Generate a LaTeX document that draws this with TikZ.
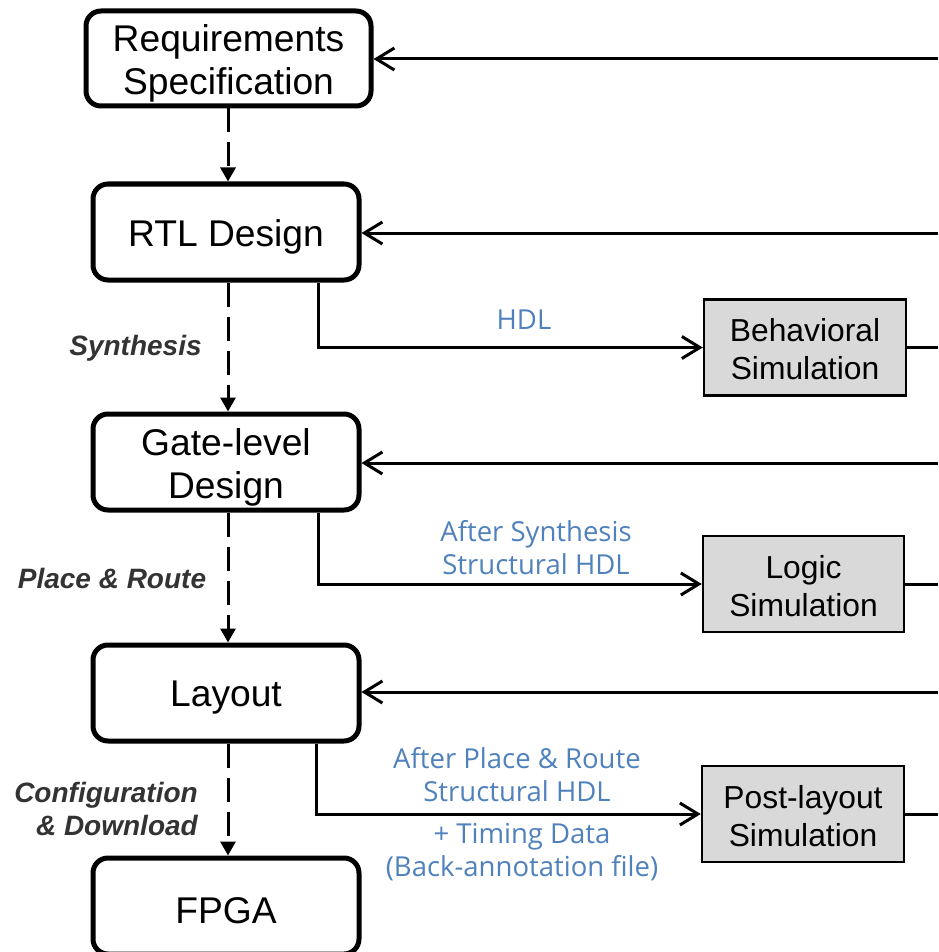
\documentclass[tikz,border=0pt]{standalone}
\usepackage{fontspec}
\setmainfont{Liberation Sans}
\newfontfamily\bluefont{Open Sans}
\usetikzlibrary{arrows.meta}
\definecolor{hdlblue}{RGB}{79,129,189}
\definecolor{labgray}{RGB}{51,51,51}
\definecolor{simfill}{RGB}{217,217,217}
\newcommand{\dnm}[1]{\raisebox{-5pt}[\height][\depth]{#1}}
\newcommand{\dns}[1]{\raisebox{-2pt}[\height][\depth]{#1}}
\begin{document}
\begin{tikzpicture}[x=1pt,y=-1pt,
  mainbox/.style={draw=black, line width=5pt, rounded corners=15pt, inner sep=0pt,
    minimum width=266pt, minimum height=96pt, align=center,
    font=\fontsize{37.2}{43}\selectfont},
  simbox/.style={draw=black, fill=simfill, line width=2.5pt, inner sep=0pt,
    minimum width=201pt, minimum height=96pt, align=center,
    font=\fontsize{31.8}{38}\selectfont},
  dasharrow/.style={line width=3pt, dash pattern=on 24pt off 10pt,
    -{Triangle[length=14pt,width=15pt]}},
  openarrow/.style={line width=3pt, -{Straight Barb[length=18pt,width=22pt]}},
  plainline/.style={line width=3pt},
  bluelab/.style={text=hdlblue, align=center, inner sep=0pt,
    font=\bluefont\fontsize{27.5}{33}\selectfont},
  steplab/.style={text=labgray, inner sep=0pt,
    font=\bfseries\itshape\fontsize{28}{33}\selectfont}
]
\useasboundingbox (0,0) rectangle (938,952);

% main flow boxes
\node[mainbox, minimum width=285pt, minimum height=95pt] (req) at (228.5,58.5) {\dnm{Requirements}\\\dnm{Specification}};
\node[mainbox] (rtl) at (226,232) {\dnm{RTL Design}};
\node[mainbox] (gate) at (226,462) {\dnm{Gate-level}\\\dnm{Design}};
\node[mainbox] (lay) at (226,693) {\dnm{Layout}};
\node[mainbox] (fpga) at (226,906) {\dnm{FPGA}};

% simulation boxes
\node[simbox, minimum width=202pt] (beh) at (805,347.5) {\dns{Behavioral}\\\dns{Simulation}};
\node[simbox] (logic) at (803.5,584) {\dns{Logic}\\\dns{Simulation}};
\node[simbox, minimum width=202pt] (post) at (803,814) {\dns{Post-layout}\\\dns{Simulation}};

% right-edge coordinates
\coordinate (r1) at (938,59);
\coordinate (r2) at (938,233);
\coordinate (r3) at (938,463);
\coordinate (r4) at (938,692);
\coordinate (rx) at (938,0);

% dashed flow arrows
\draw[dasharrow] (req.south -| 228,0) -- (rtl.north -| 228,0);
\draw[dasharrow] (rtl.south -| 228,0) -- (gate.north -| 228,0);
\draw[dasharrow] (gate.south -| 228,0) -- (lay.north -| 228,0);
\draw[dasharrow] (lay.south -| 228,0) -- (fpga.north -| 228,0);

% feedback arrows
\draw[openarrow] (r1) -- (r1 -| req.east);
\draw[openarrow] (r2) -- (r2 -| rtl.east);
\draw[openarrow] (r3) -- (r3 -| gate.east);
\draw[openarrow] (r4) -- (r4 -| lay.east);

% branches to simulation
\draw[openarrow] (rtl.south -| 318,0) |- (beh.west);
\draw[openarrow] (gate.south -| 318,0) |- (logic.west);
\draw[openarrow] (lay.south -| 316,0) |- (post.west);

% simulation outputs
\draw[plainline] (beh.east) -- (beh.east -| rx);
\draw[plainline] (logic.east) -- (logic.east -| rx);
\draw[plainline] (post.east) -- (post.east -| rx);

% blue labels
\node[bluelab] (l1) at (524,320) {HDL};
\node[bluelab] (l2) at (536,548) {After Synthesis\\Structural HDL};
\node[bluelab] (l3) at (517,775) {After Place \& Route\\Structural HDL};
\node[bluelab] (l4) at (522,852) {+ Timing Data\\(Back-annotation file)};

% step labels
\node[steplab] (t1) at (135.5,348) {Synthesis};
\node[steplab] (t2) at (112,578) {Place \& Route};
\node[steplab, align=right, anchor=east] (t3) at (198,809) {Configuration\\\& Download};
\end{tikzpicture}
\end{document}
